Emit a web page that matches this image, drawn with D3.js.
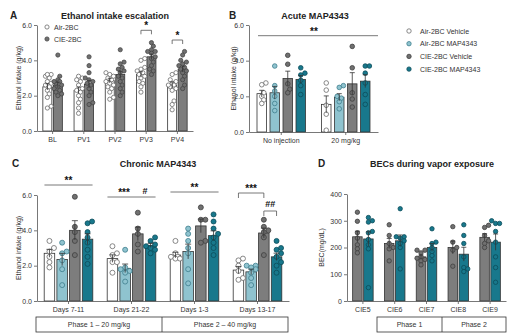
<!DOCTYPE html>
<html>
<head>
<meta charset="utf-8">
<script src="https://cdn.jsdelivr.net/npm/d3@7"></script>
<style>
body { margin: 0; background: #fff; }
svg { font-family: "Liberation Sans", Arial, sans-serif; }
</style>
</head>
<body>
<svg id="fig" width="526" height="335"></svg>
<script>
// ---- Panel A: ethanol intake escalation ----
const escCategories = ["BL", "PV1", "PV2", "PV3", "PV4"];
const escSeries = ["Air-2BC", "CIE-2BC"];
const escMeans = [[2.5, 2.6], [2.3, 2.65], [2.85, 3.2], [3.2, 4.2], [2.6, 3.5]];
const escPoints = [
    [[3.2, 3.1, 3.0, 2.8, 2.7, 2.6, 2.5, 2.3, 2.1, 1.9, 1.4, 1.3, 3.2], [4.3, 3.1, 2.9, 2.8, 2.7, 2.6, 2.5, 2.4, 2.3, 2.2, 2.1, 2.0, 2.8]],
    [[3.1, 3.0, 2.8, 2.6, 2.4, 2.2, 2.0, 1.8, 1.6, 1.3, 1.0, 2.9, 2.3], [4.2, 3.7, 3.3, 3.0, 2.8, 2.7, 2.6, 2.4, 2.2, 2.0, 1.6, 1.5, 2.9]],
    [[3.3, 3.2, 3.0, 2.9, 2.8, 2.7, 2.6, 2.5, 2.4, 2.2, 1.9, 1.8, 3.1], [4.6, 3.9, 3.8, 3.6, 3.4, 3.3, 3.1, 3.0, 2.8, 2.6, 2.4, 2.0, 3.5, 2.2]],
    [[4.1, 4.0, 3.6, 3.5, 3.4, 3.3, 3.2, 3.0, 2.8, 2.7, 2.5, 2.2, 3.1], [5.0, 4.8, 4.6, 4.5, 4.4, 4.2, 4.1, 3.9, 3.7, 3.5, 3.4, 3.2, 4.5]],
    [[3.3, 3.2, 2.9, 2.8, 2.7, 2.6, 2.5, 2.4, 2.3, 1.7, 1.5, 1.2, 2.6], [4.5, 4.3, 4.0, 3.8, 3.7, 3.6, 3.5, 3.3, 3.1, 2.9, 2.6, 2.4, 3.9, 3.4]]
];

// ---- Panel B: acute MAP4343 ----
const acuteCategories = ["No injection", "20 mg/kg"];
const treatSeries = ["Air-2BC Vehicle", "Air-2BC MAP4343", "CIE-2BC Vehicle", "CIE-2BC MAP4343"];
const acuteMeans = [[2.15, 2.2, 3.0, 2.95], [1.55, 1.95, 2.7, 2.85]];
const acutePoints = [
    [[2.75, 2.65, 2.2, 2.0, 1.8, 1.6], [3.7, 2.6, 2.3, 2.0, 1.6, 1.2], [4.3, 3.8, 2.7, 2.4, 2.2], [3.6, 3.3, 3.2, 2.9, 2.6, 2.1]],
    [[2.75, 2.35, 1.5, 1.0, 0.1], [2.6, 2.5, 2.0, 1.9, 1.7, 1.3], [4.8, 3.6, 2.2, 1.85, 1.4], [3.7, 3.7, 3.3, 2.75, 2.1, 1.55]]
];

// ---- Panel C: chronic MAP4343 ----
const chronicCategories = ["Days 7-11", "Days 21-22", "Days 1-3", "Days 13-17"];
const chronicMeans = [[2.7, 2.35, 4.0, 3.5], [2.4, 1.85, 3.8, 3.15], [2.6, 2.8, 4.25, 3.7], [1.75, 1.65, 3.85, 2.5]];
const chronicPoints = [
    [[3.4, 3.0, 2.8, 2.5, 2.2, 1.9], [3.3, 2.8, 2.7, 2.3, 1.8, 0.9], [5.9, 4.2, 3.9, 3.4, 2.6], [4.5, 4.4, 3.9, 3.6, 3.3, 2.9, 2.5, 2.1]],
    [[3.1, 2.7, 2.6, 2.2, 2.2, 1.6], [2.9, 1.9, 1.8, 1.7, 1.6, 1.1], [5.0, 4.1, 3.8, 3.2, 2.8], [3.6, 3.4, 3.2, 3.1, 3.0, 2.9, 2.7]],
    [[3.4, 2.7, 2.5, 2.5, 2.4, 2.4], [4.1, 3.8, 3.4, 3.0, 2.7, 1.8, 1.0], [5.3, 4.6, 4.6, 3.4, 3.3], [4.9, 4.5, 4.1, 3.8, 3.6, 3.3, 3.0, 2.6]],
    [[2.4, 2.3, 2.0, 1.7, 1.3, 1.2], [2.0, 2.0, 1.9, 1.8, 1.6, 1.3, 0.9], [4.6, 4.2, 4.0, 3.9, 3.6, 2.6], [3.4, 3.0, 2.9, 2.7, 2.5, 2.2, 2.0, 1.6]]
];
const chronicPhases = ["Phase 1 \u2013 20 mg/kg", "Phase 2 \u2013 40 mg/kg"];

// ---- Panel D: BECs ----
const becCategories = ["CIE5", "CIE6", "CIE7", "CIE8", "CIE9"];
const becSeries = ["CIE-2BC Vehicle", "CIE-2BC MAP4343"];
const becMeans = [[240, 232], [215, 225], [165, 200], [200, 175], [238, 220]];
const becPoints = [
    [[332, 298, 255, 235, 210, 195, 180], [312, 300, 295, 260, 255, 230, 210, 195, 50]],
    [[285, 245, 215, 200, 195, 150], [345, 240, 240, 235, 225, 215, 200, 120]],
    [[190, 190, 180, 165, 160, 150, 135, 155], [270, 220, 215, 200, 185, 170, 150]],
    [[278, 220, 200, 190, 130], [285, 245, 215, 165, 125, 120, 110]],
    [[275, 283, 245, 225, 215, 200], [300, 290, 290, 260, 220, 165, 125, 70]]
];
const becPhases = ["Phase 1", "Phase 2"];

const intakeTicks = [0, 2, 4, 6];
const becTicks = [0, 100, 200, 300, 400];

// colours per group name
const groupStyle = {
    "Air-2BC": { fill: "#ffffff", dot: "#ffffff", dotStroke: "#6b6b6b" },
    "CIE-2BC": { fill: "#7d7d7d", dot: "#707070", dotStroke: "#454545" },
    "Air-2BC Vehicle": { fill: "#ffffff", dot: "#ffffff", dotStroke: "#6b6b6b" },
    "Air-2BC MAP4343": { fill: "#8fc3cf", dot: "#8fc3cf", dotStroke: "#3f7f8e" },
    "CIE-2BC Vehicle": { fill: "#7d7d7d", dot: "#707070", dotStroke: "#404040" },
    "CIE-2BC MAP4343": { fill: "#18788c", dot: "#18788c", dotStroke: "#0c4c5a" }
};
const ink = "#333";

const svg = d3.select("#fig");

// spread overlapping dots sideways (simple beeswarm)
function swarmOffsets(vals, y, r, maxOff) {
    const order = vals.map((v, i) => i).sort((a, b) => vals[a] - vals[b]);
    const placed = [];
    const offs = new Array(vals.length).fill(0);
    const cands = [0];
    for (let s = r * 0.9; s <= maxOff + 0.01; s += r * 0.9) { cands.push(s, -s); }
    order.forEach(i => {
        const py = y(vals[i]);
        let best = 0, bestD = -1;
        for (const c of cands) {
            const d = placed.length ? d3.min(placed, p => Math.hypot(p.x - c, p.y - py)) : 99;
            if (d >= r * 1.75) { best = c; bestD = 99; break; }
            if (d > bestD) { bestD = d; best = c; }
        }
        offs[i] = best;
        placed.push({ x: best, y: py });
    });
    return offs;
}

function sem(vals) {
    return d3.deviation(vals) / Math.sqrt(vals.length);
}

function drawPanel(p) {
    const g = svg.append("g");
    const y = d3.scaleLinear().domain(p.yDomain).range([p.yBottom, p.yTop]);
    const x = d3.scaleBand().domain(p.categories).range([p.xLeft, p.xRight]);
    const n = p.series.length;
    const cx = (ci, si) => x(p.categories[ci]) + x.bandwidth() / 2 + (si - (n - 1) / 2) * p.step;

    // bars
    p.categories.forEach((cat, ci) => {
        p.series.forEach((s, si) => {
            g.append("rect")
                .attr("x", cx(ci, si) - p.barW / 2)
                .attr("y", y(p.means[ci][si]))
                .attr("width", p.barW)
                .attr("height", y(0) - y(p.means[ci][si]))
                .attr("fill", groupStyle[s].fill)
                .attr("stroke", ink)
                .attr("stroke-width", 0.8);
        });
    });

    // dots
    p.categories.forEach((cat, ci) => {
        p.series.forEach((s, si) => {
            const vals = p.points[ci][si];
            const offs = swarmOffsets(vals, y, p.r, p.barW / 2 - 0.5);
            vals.forEach((v, i) => {
                g.append("circle")
                    .attr("cx", cx(ci, si) + offs[i])
                    .attr("cy", y(v))
                    .attr("r", p.r)
                    .attr("fill", groupStyle[s].dot)
                    .attr("stroke", groupStyle[s].dotStroke)
                    .attr("stroke-width", 0.8);
            });
        });
    });

    // error bars (mean +/- SEM)
    p.categories.forEach((cat, ci) => {
        p.series.forEach((s, si) => {
            const m = p.means[ci][si];
            const e = sem(p.points[ci][si]);
            const xc = cx(ci, si);
            g.append("line").attr("x1", xc).attr("x2", xc)
                .attr("y1", y(m - e)).attr("y2", y(m + e))
                .attr("stroke", ink).attr("stroke-width", 0.8);
            g.append("line").attr("x1", xc - p.cap).attr("x2", xc + p.cap)
                .attr("y1", y(m + e)).attr("y2", y(m + e))
                .attr("stroke", ink).attr("stroke-width", 0.8);
        });
    });

    // axes
    const yAxis = g.append("g")
        .attr("transform", `translate(${p.xLeft},0)`)
        .call(d3.axisLeft(y).tickValues(p.yTicks).tickSize(3).tickSizeOuter(0).tickPadding(2));
    const xAxis = g.append("g")
        .attr("transform", `translate(0,${p.yBottom})`)
        .call(d3.axisBottom(x).tickSize(3).tickSizeOuter(0).tickPadding(3));
    [yAxis, xAxis].forEach(a => {
        a.selectAll("path, line").attr("stroke", "#555").attr("stroke-width", 0.8);
        a.selectAll("text").attr("fill", ink).style("font-size", "7px");
    });

    // y label
    g.append("text")
        .attr("transform", `translate(${p.yLabelX},${(p.yTop + p.yBottom) / 2}) rotate(-90)`)
        .attr("text-anchor", "middle")
        .attr("fill", ink)
        .style("font-size", "7px")
        .text(p.yLabel);

    // title and panel letter
    g.append("text").attr("x", p.titleX).attr("y", p.titleY)
        .attr("text-anchor", "middle").attr("font-weight", "bold")
        .style("font-size", "9px").attr("fill", "#222").text(p.title);
    g.append("text").attr("x", p.letterX).attr("y", p.titleY)
        .attr("font-weight", "bold").style("font-size", "10px").attr("fill", "#222").text(p.letter);

    return { g, x, y, cx };
}

function stars(g, xPos, yPos, txt, size) {
    g.append("text").attr("x", xPos).attr("y", yPos)
        .attr("text-anchor", "middle").attr("font-weight", "bold")
        .style("font-size", (size || 10) + "px").attr("fill", "#111").text(txt);
}
function hline(g, x1, x2, yy) {
    g.append("line").attr("x1", x1).attr("x2", x2).attr("y1", yy).attr("y2", yy)
        .attr("stroke", "#555").attr("stroke-width", 0.8);
}
function bracket(g, x1, x2, yy, leg) {
    g.append("path")
        .attr("d", `M${x1},${yy + leg}V${yy}H${x2}V${yy + leg}`)
        .attr("fill", "none").attr("stroke", "#555").attr("stroke-width", 0.8);
}
function phaseBox(g, x1, xm, x2, y1, y2, labels) {
    g.append("rect").attr("x", x1).attr("y", y1).attr("width", x2 - x1).attr("height", y2 - y1)
        .attr("fill", "none").attr("stroke", ink).attr("stroke-width", 0.8);
    g.append("line").attr("x1", xm).attr("x2", xm).attr("y1", y1).attr("y2", y2)
        .attr("stroke", ink).attr("stroke-width", 0.8);
    [[x1, xm], [xm, x2]].forEach((r, i) => {
        g.append("text").attr("x", (r[0] + r[1]) / 2).attr("y", (y1 + y2) / 2 + 2.5)
            .attr("text-anchor", "middle").style("font-size", "7px").attr("fill", ink).text(labels[i]);
    });
}

// ---- A ----
const A = drawPanel({
    categories: escCategories, series: escSeries, means: escMeans, points: escPoints,
    yDomain: [0, 6], yTicks: intakeTicks, xLeft: 37, xRight: 193, yTop: 25, yBottom: 131,
    barW: 9, step: 10.5, r: 2.1, cap: 2,
    yLabel: "Ethanol intake (g/kg)", yLabelX: 21,
    title: "Ethanol intake escalation", titleX: 115, titleY: 19, letter: "A", letterX: 10
});
escSeries.forEach((s, i) => {
    A.g.append("circle").attr("cx", 47).attr("cy", 27 + i * 12).attr("r", 2.1)
        .attr("fill", groupStyle[s].dot).attr("stroke", groupStyle[s].dotStroke).attr("stroke-width", 0.8);
    A.g.append("text").attr("x", 54).attr("y", 29.5 + i * 12).style("font-size", "7px").attr("fill", ink).text(s);
});
bracket(A.g, A.cx(3, 0), A.cx(3, 1), A.y(5.7), 4);
stars(A.g, (A.cx(3, 0) + A.cx(3, 1)) / 2, A.y(5.7) - 1, "*");
bracket(A.g, A.cx(4, 0), A.cx(4, 1), A.y(5.15), 4);
stars(A.g, (A.cx(4, 0) + A.cx(4, 1)) / 2, A.y(5.15) - 1, "*");

// ---- B ----
const B = drawPanel({
    categories: acuteCategories, series: treatSeries, means: acuteMeans, points: acutePoints,
    yDomain: [0, 6], yTicks: intakeTicks, xLeft: 249, xRight: 378, yTop: 25, yBottom: 132,
    barW: 9.5, step: 13, r: 2.3, cap: 2.5,
    yLabel: "Ethanol intake (g/kg)", yLabelX: 236,
    title: "Acute MAP4343", titleX: 315, titleY: 19, letter: "B", letterX: 229
});
hline(B.g, 258, 378, B.y(5.4));
stars(B.g, 314, B.y(5.4) - 1, "**");
treatSeries.forEach((s, i) => {
    B.g.append("circle").attr("cx", 409).attr("cy", 31 + i * 12.7).attr("r", 2.2)
        .attr("fill", groupStyle[s].dot).attr("stroke", groupStyle[s].dotStroke).attr("stroke-width", 0.8);
    B.g.append("text").attr("x", 420).attr("y", 33.5 + i * 12.7).style("font-size", "7px").attr("fill", ink).text(s);
});

// ---- C ----
const C = drawPanel({
    categories: chronicCategories, series: treatSeries, means: chronicMeans, points: chronicPoints,
    yDomain: [0, 6], yTicks: intakeTicks, xLeft: 37, xRight: 289, yTop: 195, yBottom: 301,
    barW: 10.5, step: 12.7, r: 2.5, cap: 3,
    yLabel: "Ethanol intake (g/kg)", yLabelX: 21,
    title: "Chronic MAP4343", titleX: 158, titleY: 167, letter: "C", letterX: 12
});
const gl = ci => C.cx(ci, 0) - 5, gr = ci => C.cx(ci, 3) + 5;
hline(C.g, gl(0), gr(0), 185);
stars(C.g, (gl(0) + gr(0)) / 2, 184, "**");
hline(C.g, gl(1), gr(1), 197);
stars(C.g, 124, 196, "***");
stars(C.g, 145, 194, "#", 9);
hline(C.g, gl(2), gr(2), 192);
stars(C.g, (gl(2) + gr(2)) / 2, 191, "**");
bracket(C.g, C.cx(3, 0), C.cx(3, 2), 193, 5);
stars(C.g, (C.cx(3, 0) + C.cx(3, 2)) / 2, 192, "***");
bracket(C.g, C.cx(3, 2), C.cx(3, 3), 211, 5);
stars(C.g, (C.cx(3, 2) + C.cx(3, 3)) / 2, 207, "##", 9);
phaseBox(C.g, 36, 162, 288, 317, 332, chronicPhases);

// ---- D ----
const D = drawPanel({
    categories: becCategories, series: becSeries, means: becMeans, points: becPoints,
    yDomain: [0, 400], yTicks: becTicks, xLeft: 347, xRight: 506, yTop: 194, yBottom: 301,
    barW: 9.5, step: 11, r: 2.2, cap: 2.5,
    yLabel: "BEC(mg/dL)", yLabelX: 324,
    title: "BECs during vapor exposure", titleX: 432, titleY: 167, letter: "D", letterX: 318
});
phaseBox(D.g, 377, 442, 506, 317, 332, becPhases);
</script>
</body>
</html>
